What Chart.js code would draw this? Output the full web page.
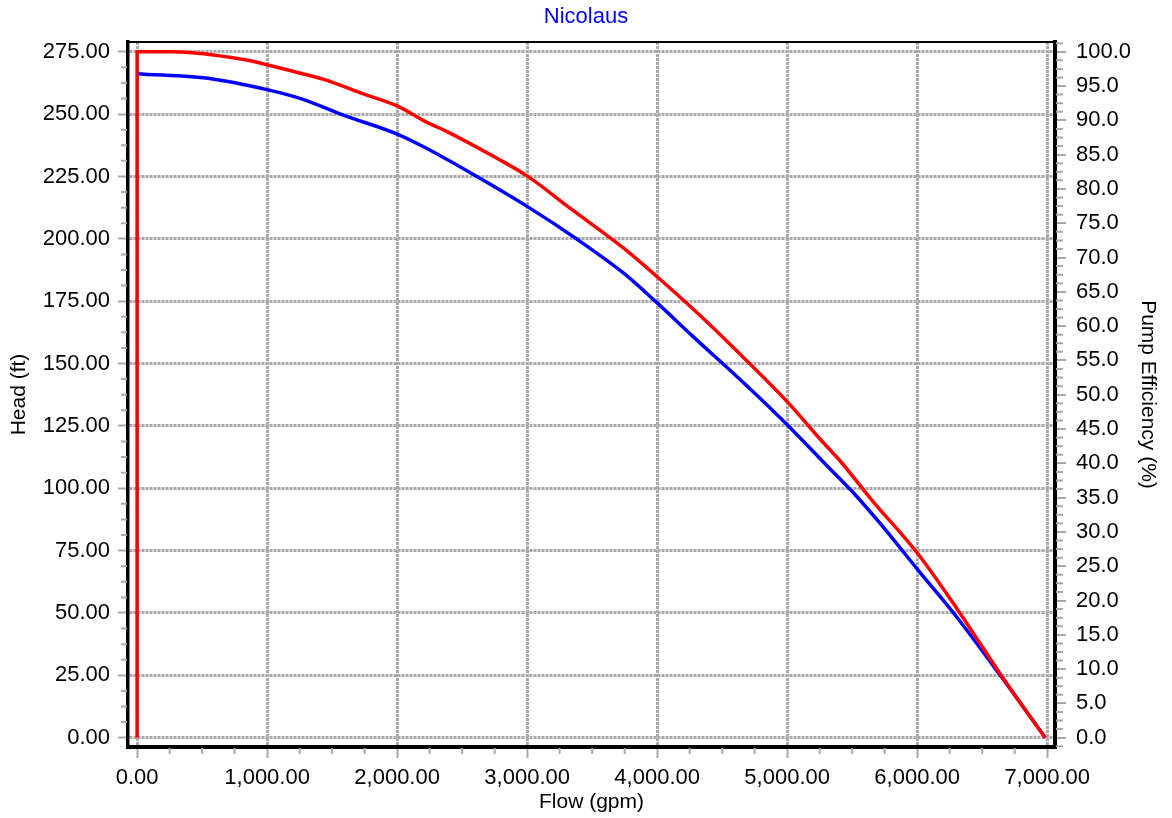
<!DOCTYPE html>
<html>
<head>
<meta charset="utf-8">
<script src="https://cdn.jsdelivr.net/npm/chart.js@4/dist/chart.umd.min.js"></script>
<style>
  html, body { margin: 0; padding: 0; background: #ffffff; }
  #wrap { width: 1172px; height: 818px; }
</style>
</head>
<body>
<div id="wrap"><canvas id="c" width="1172" height="818"></canvas></div>
<script>
// ---- Data ----
const chartTitle = 'Nicolaus';
const xTitle = 'Flow (gpm)';
const yTitle = 'Head (ft)';
const y2Title = 'Pump Efficiency (%)';

// Head curve (blue, left axis)
const headFlow = [0, 580, 1000, 1270, 1580, 2000, 2200, 2590, 3000, 3390, 3740, 4000, 4260, 4640, 5000, 5310, 5530, 5720, 6010, 6310, 6650, 6985];
const headValues = [266.2, 264.1, 259.8, 256.0, 249.7, 242.0, 237.0, 225.7, 213.0, 199.6, 186.3, 174.3, 161.6, 143.5, 125.5, 108.8, 97.0, 85.6, 67.0, 48.0, 24.2, 0];

// Pump efficiency curve (red, right axis)
const effFlow = [0, 0, 270, 840, 1000, 1250, 1430, 1735, 2000, 2230, 2380, 2765, 3000, 3330, 3740, 4000, 4310, 4590, 5000, 5260, 5410, 5640, 6010, 6310, 6650, 6985];
const effValues = [0, 100, 100, 98.8, 98.1, 96.9, 96.0, 93.9, 92.1, 89.7, 88.4, 84.5, 81.9, 77.2, 71.4, 67.2, 61.9, 56.8, 49.0, 43.4, 40.3, 34.9, 26.7, 18.7, 9.0, 0];

// Tick values
const xTicks = [0, 1000, 2000, 3000, 4000, 5000, 6000, 7000];
const yTicks = [0, 25, 50, 75, 100, 125, 150, 175, 200, 225, 250, 275];
const y2Ticks = [0, 5, 10, 15, 20, 25, 30, 35, 40, 45, 50, 55, 60, 65, 70, 75, 80, 85, 90, 95, 100];

// ---- Chart ----
const FONT = "'Liberation Sans', Arial, Helvetica, sans-serif";
Chart.defaults.font.family = FONT;
Chart.defaults.color = '#000000';

const GRID = '#a9a9a9';
const GRIDW = 3;
const DASH = [3, 1];

const fmt2 = v => Number(v).toLocaleString('en-US', { minimumFractionDigits: 2, maximumFractionDigits: 2 });
const fmt1 = v => Number(v).toFixed(1);

const headPts = headFlow.map((f, i) => ({ x: f, y: headValues[i] }));
const effPts = effFlow.map((f, i) => ({ x: f, y: effValues[i] }));

const frameAndMinor = {
  id: 'frameAndMinor',
  afterDraw(chart) {
    const { ctx, chartArea: a, scales } = chart;
    ctx.save();
    // top frame line
    ctx.strokeStyle = '#000000';
    ctx.lineWidth = 2;
    ctx.beginPath();
    ctx.moveTo(a.left - 1, a.top);
    ctx.lineTo(a.right + 2, a.top);
    ctx.stroke();
    // minor ticks
    ctx.strokeStyle = GRID;
    ctx.lineWidth = 2;
    const minor = (scale, step, majorStep, draw) => {
      const start = Math.ceil(scale.min / step) * step;
      for (let v = start; v <= scale.max + 1e-9; v += step) {
        const r = v / majorStep;
        if (Math.abs(r - Math.round(r)) < 1e-6) continue;
        draw(scale.getPixelForValue(v));
      }
    };
    ctx.beginPath();
    minor(scales.x, 250, 1000, p => { ctx.moveTo(p, a.bottom + 1); ctx.lineTo(p, a.bottom + 7); });
    minor(scales.y, 6.25, 25, p => { ctx.moveTo(a.left - 1, p); ctx.lineTo(a.left - 7, p); });
    minor(scales.y2, 1.25, 5, p => { ctx.moveTo(a.right + 1, p); ctx.lineTo(a.right + 8, p); });
    ctx.stroke();
    ctx.restore();
  }
};

new Chart(document.getElementById('c'), {
  type: 'line',
  data: {
    datasets: [
      {
        label: y2Title,
        data: effPts,
        yAxisID: 'y2',
        borderColor: '#ff0000',
        backgroundColor: '#ff0000',
        borderWidth: 3.5,
        pointRadius: 0,
        cubicInterpolationMode: 'monotone',
        fill: false
      },
      {
        label: yTitle,
        data: headPts,
        yAxisID: 'y',
        borderColor: '#0000ff',
        backgroundColor: '#0000ff',
        borderWidth: 3.5,
        pointRadius: 0,
        cubicInterpolationMode: 'monotone',
        fill: false
      }
    ]
  },
  options: {
    responsive: false,
    animation: false,
    layout: { padding: 0 },
    plugins: {
      legend: { display: false },
      tooltip: { enabled: false },
      title: {
        display: true,
        text: chartTitle,
        color: '#0000ff',
        font: { size: 22, weight: 'normal', family: FONT },
        padding: { top: 4, bottom: 11.6 }
      }
    },
    scales: {
      x: {
        type: 'linear',
        position: 'bottom',
        min: -70,
        max: 7060,
        afterBuildTicks: s => { s.ticks = xTicks.map(v => ({ value: v })); },
        afterFit: s => { s.height = 71; },
        ticks: {
          callback: v => fmt2(v),
          font: { size: 22 },
          color: '#000000',
          padding: 7,
          maxRotation: 0,
          autoSkip: false
        },
        grid: { color: GRID, lineWidth: GRIDW, tickLength: 11, tickColor: GRID, tickWidth: 2 },
        border: { display: true, color: '#000000', width: 4, dash: DASH },
        title: { display: true, text: xTitle, font: { size: 21 }, color: '#000000', padding: { top: 0, bottom: 3 } }
      },
      y: {
        type: 'linear',
        position: 'left',
        min: -3.73,
        max: 278.9,
        afterBuildTicks: s => { s.ticks = yTicks.map(v => ({ value: v })); },
        afterFit: s => { s.width = 128; },
        ticks: {
          callback: v => fmt2(v),
          font: { size: 22 },
          color: '#000000',
          padding: 8,
          autoSkip: false
        },
        grid: { color: GRID, lineWidth: GRIDW, tickLength: 10, tickColor: GRID, tickWidth: 2 },
        border: { display: true, color: '#000000', width: 3.5, dash: DASH },
        title: { display: true, text: yTitle, font: { size: 21 }, color: '#000000', padding: { top: 7, bottom: 0 } }
      },
      y2: {
        type: 'linear',
        position: 'right',
        min: -1.356,
        max: 101.42,
        afterBuildTicks: s => { s.ticks = y2Ticks.map(v => ({ value: v })); },
        afterFit: s => { s.width = 117; },
        ticks: {
          callback: v => fmt1(v),
          font: { size: 22 },
          color: '#000000',
          padding: 10,
          autoSkip: false
        },
        grid: { drawOnChartArea: false, color: GRID, lineWidth: 2, tickLength: 11, tickColor: GRID, tickWidth: 2 },
        border: { display: true, color: '#000000', width: 4 },
        title: { display: true, text: y2Title, font: { size: 21 }, color: '#000000', padding: { top: 12, bottom: 0 } }
      }
    }
  },
  plugins: [frameAndMinor]
});
</script>
</body>
</html>
